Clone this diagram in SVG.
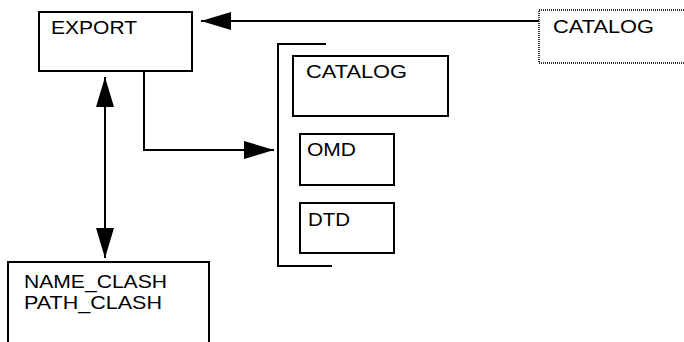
<svg xmlns="http://www.w3.org/2000/svg" width="684" height="342" viewBox="0 0 684 342">
<style>
.box{fill:#fff;stroke:#000;stroke-width:2}
.dotbox{fill:#fff;stroke:#333;stroke-width:2;stroke-dasharray:1 1}
.lbl{font-family:"Liberation Sans",Arial,sans-serif;font-size:18px;fill:#000}
.ln{fill:none;stroke:#000;stroke-width:2}
</style>
<defs>
<marker id="ah" markerUnits="userSpaceOnUse" markerWidth="31" markerHeight="19" refX="30" refY="9" orient="auto-start-reverse" viewBox="0 0 31 19">
<path d="M0,0 L30,9 L0,18 z" fill="#000"/>
</marker>
</defs>
<rect width="684" height="342" fill="#fff"/>
<g id="connectors">
<line class="ln" x1="539" y1="21" x2="201" y2="21" marker-end="url(#ah)"/>
<polyline class="ln" points="144,71 144,150 274,150" marker-end="url(#ah)"/>
<line class="ln" x1="105" y1="77" x2="105" y2="258" marker-start="url(#ah)" marker-end="url(#ah)"/>
</g>
<g id="export">
<rect class="box" x="39" y="12" width="153" height="59"/>
<text class="lbl" x="51" y="34" textLength="86" lengthAdjust="spacingAndGlyphs">EXPORT</text>
</g>
<g id="catalog-source">
<rect class="dotbox" x="539" y="10" width="160" height="53"/>
<text class="lbl" x="553" y="33" textLength="101" lengthAdjust="spacingAndGlyphs">CATALOG</text>
</g>
<g id="group-bracket">
<polyline class="ln" points="326,44 278,44 278,266 332,266"/>
</g>
<g id="catalog">
<rect class="box" x="293" y="56" width="155" height="60"/>
<text class="lbl" x="306" y="78" textLength="101" lengthAdjust="spacingAndGlyphs">CATALOG</text>
</g>
<g id="omd">
<rect class="box" x="300" y="134" width="94" height="51"/>
<text class="lbl" x="307" y="156" textLength="49" lengthAdjust="spacingAndGlyphs">OMD</text>
</g>
<g id="dtd">
<rect class="box" x="300" y="203" width="94" height="50"/>
<text class="lbl" x="308" y="226" textLength="42" lengthAdjust="spacingAndGlyphs">DTD</text>
</g>
<g id="clash">
<rect class="box" x="8" y="262" width="201" height="90"/>
<text class="lbl" x="24" y="288" textLength="143" lengthAdjust="spacingAndGlyphs">NAME_CLASH</text>
<text class="lbl" x="24" y="309" textLength="138" lengthAdjust="spacingAndGlyphs">PATH_CLASH</text>
</g>
</svg>
